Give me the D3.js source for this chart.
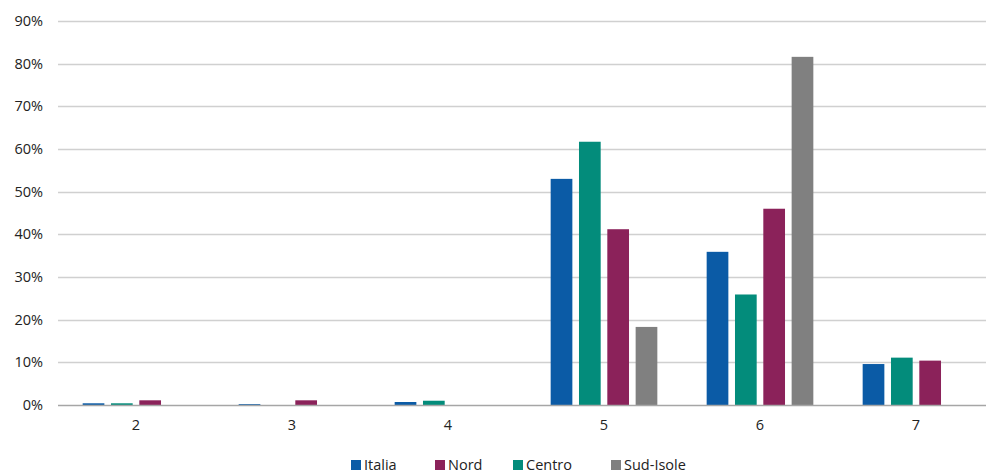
<!DOCTYPE html>
<html>
<head>
<meta charset="utf-8">
<script src="https://cdn.jsdelivr.net/npm/d3@7"></script>
<style>
  html, body { margin: 0; padding: 0; background: #fff; }
  svg { display: block; font-family: "Open Sans", "Noto Sans", sans-serif; }
</style>
</head>
<body>
<svg id="chart" width="986" height="473"></svg>
<script>
const categories = ["2", "3", "4", "5", "6", "7"];
const barOrder = ["Italia", "Centro", "Nord", "Sud-Isole"];
const legendOrder = ["Italia", "Nord", "Centro", "Sud-Isole"];
const italia   = [0.4, 0.2, 0.7, 53.0, 35.9, 9.6];
const centro   = [0.4, 0.0, 1.0, 61.7, 25.9, 11.1];
const nord     = [1.1, 1.1, 0.0, 41.2, 46.0, 10.4];
const sudIsole = [0.0, 0.0, 0.0, 18.3, 81.6, 0.0];
const yTicks = [0, 10, 20, 30, 40, 50, 60, 70, 80, 90];
const colors = { "Italia": "#0b5ba6", "Nord": "#8b225a", "Centro": "#038c7b", "Sud-Isole": "#808080" };

const seriesValues = { "Italia": italia, "Centro": centro, "Nord": nord, "Sud-Isole": sudIsole };

const svg = d3.select("#chart");
const x0 = d3.scaleBand().domain(categories).range([58, 994]).padding(0);
const y = d3.scaleLinear().domain([0, 90]).range([405, 21]);
const groupW = 113.3;
const x1 = d3.scaleBand().domain(barOrder).range([0, groupW]).paddingInner(0.234).paddingOuter(0.117);

// gridlines
svg.append("g").selectAll("line").data(yTicks.filter(d => d > 0)).join("line")
  .attr("x1", 58).attr("x2", 994)
  .attr("y1", d => Math.round(y(d)) + 0.5).attr("y2", d => Math.round(y(d)) + 0.5)
  .attr("stroke", "#d0d0d0").attr("stroke-width", 1.3);

// y tick labels
svg.append("g").selectAll("text").data(yTicks).join("text")
  .attr("x", 43).attr("y", d => y(d)).attr("dy", "0.35em")
  .attr("text-anchor", "end").attr("font-size", 14.5).attr("fill", "#222")
  .text(d => d + "%");

// bars
const data = [];
categories.forEach((c, i) => {
  barOrder.forEach(s => data.push({ c, s, v: seriesValues[s][i] }));
});
svg.append("g").selectAll("rect").data(data.filter(d => d.v > 0)).join("rect")
  .attr("x", d => x0(d.c) + x0.bandwidth() / 2 - groupW / 2 + x1(d.s))
  .attr("width", x1.bandwidth())
  .attr("y", d => y(d.v))
  .attr("height", d => y(0) - y(d.v))
  .attr("fill", d => colors[d.s]);

// x axis line
svg.append("line").attr("x1", 58).attr("x2", 994).attr("y1", 405.5).attr("y2", 405.5)
  .attr("stroke", "#a6a6a6").attr("stroke-width", 1.5);

// x labels
svg.append("g").selectAll("text").data(categories).join("text")
  .attr("x", d => x0(d) + x0.bandwidth() / 2).attr("y", 425).attr("dy", "0.35em")
  .attr("text-anchor", "middle").attr("font-size", 14.5).attr("fill", "#222")
  .text(d => d);

// legend
const legendX = { "Italia": 351, "Nord": 435, "Centro": 513, "Sud-Isole": 611 };
const lg = svg.append("g").selectAll("g").data(legendOrder).join("g")
  .attr("transform", d => `translate(${legendX[d]},0)`);
lg.append("rect").attr("x", 0).attr("y", 460).attr("width", 10).attr("height", 10)
  .attr("fill", d => colors[d]);
lg.append("text").attr("x", 13).attr("y", 465).attr("dy", "0.35em")
  .attr("font-size", 14.5).attr("fill", "#222").text(d => d);
</script>
</body>
</html>
